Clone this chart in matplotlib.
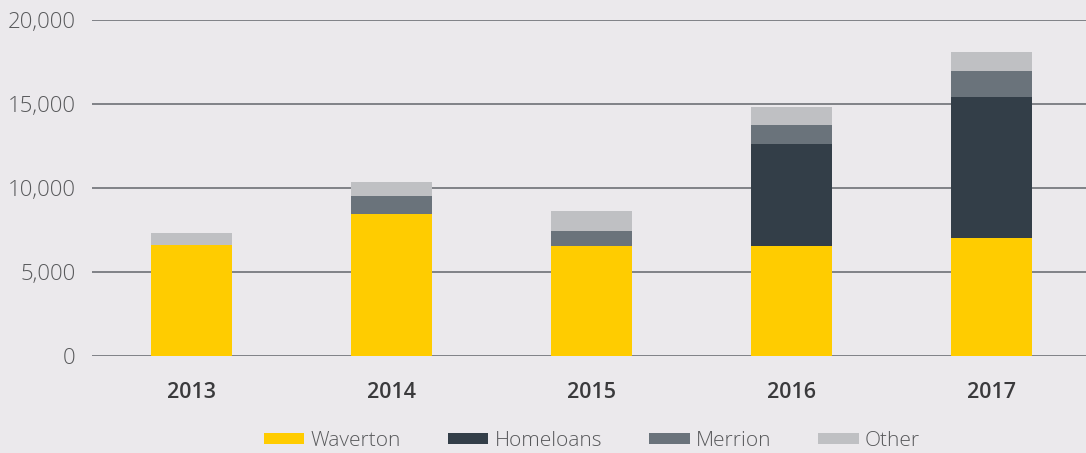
import numpy as np
import matplotlib.pyplot as plt

# Data
years = ["2013", "2014", "2015", "2016", "2017"]
waverton = [6580, 8440, 6540, 6550, 7010]
homeloans = [0, 0, 0, 6070, 8410]
merrion = [0, 1080, 890, 1130, 1550]
other = [730, 830, 1190, 1070, 1130]
series_names = ["Waverton", "Homeloans", "Merrion", "Other"]
colors = ["#FFCC00", "#333E48", "#6A737B", "#BFC0C3"]

bg = "#EBE9EC"
plt.rcParams["font.family"] = ["Open Sans", "DejaVu Sans"]

fig = plt.figure(figsize=(10.86, 4.53), dpi=100, facecolor=bg)
ax = fig.add_axes([0.0847, 0.2148, 0.9153, 0.7415], facecolor=bg)

x = np.arange(len(years))
bottom = np.zeros(len(years))
for name, vals, c in zip(series_names, [waverton, homeloans, merrion, other], colors):
    ax.bar(x, vals, bottom=bottom, width=0.405, color=c, label=name, zorder=3)
    bottom += np.array(vals)

ax.set_ylim(0, 20000)
ax.set_xlim(-0.4975, 4.4725)
ax.set_yticks([0, 5000, 10000, 15000, 20000])
ax.set_yticklabels(["0", "5,000", "10,000", "15,000", "20,000"],
                   fontsize=16, color="#58595B", fontweight="light")
ax.set_xticks(x)
ax.set_xticklabels(years, fontsize=15.5, fontweight="semibold", color="#3A3A3C")
ax.tick_params(axis="y", length=0, pad=12)
ax.tick_params(axis="x", length=0, pad=19)
ax.grid(axis="y", color="#808287", linewidth=1.4, zorder=1)
for s in ax.spines.values():
    s.set_visible(False)

fig.legend(loc="center", bbox_to_anchor=(0.545, 0.026), ncol=4, frameon=False,
           handlelength=1.95, handleheight=0.43, handletextpad=0.3,
           columnspacing=2.25, labelcolor="#58595B",
           prop={"weight": "light", "size": 15})

fig.savefig("out.png", dpi=100, facecolor=bg)
